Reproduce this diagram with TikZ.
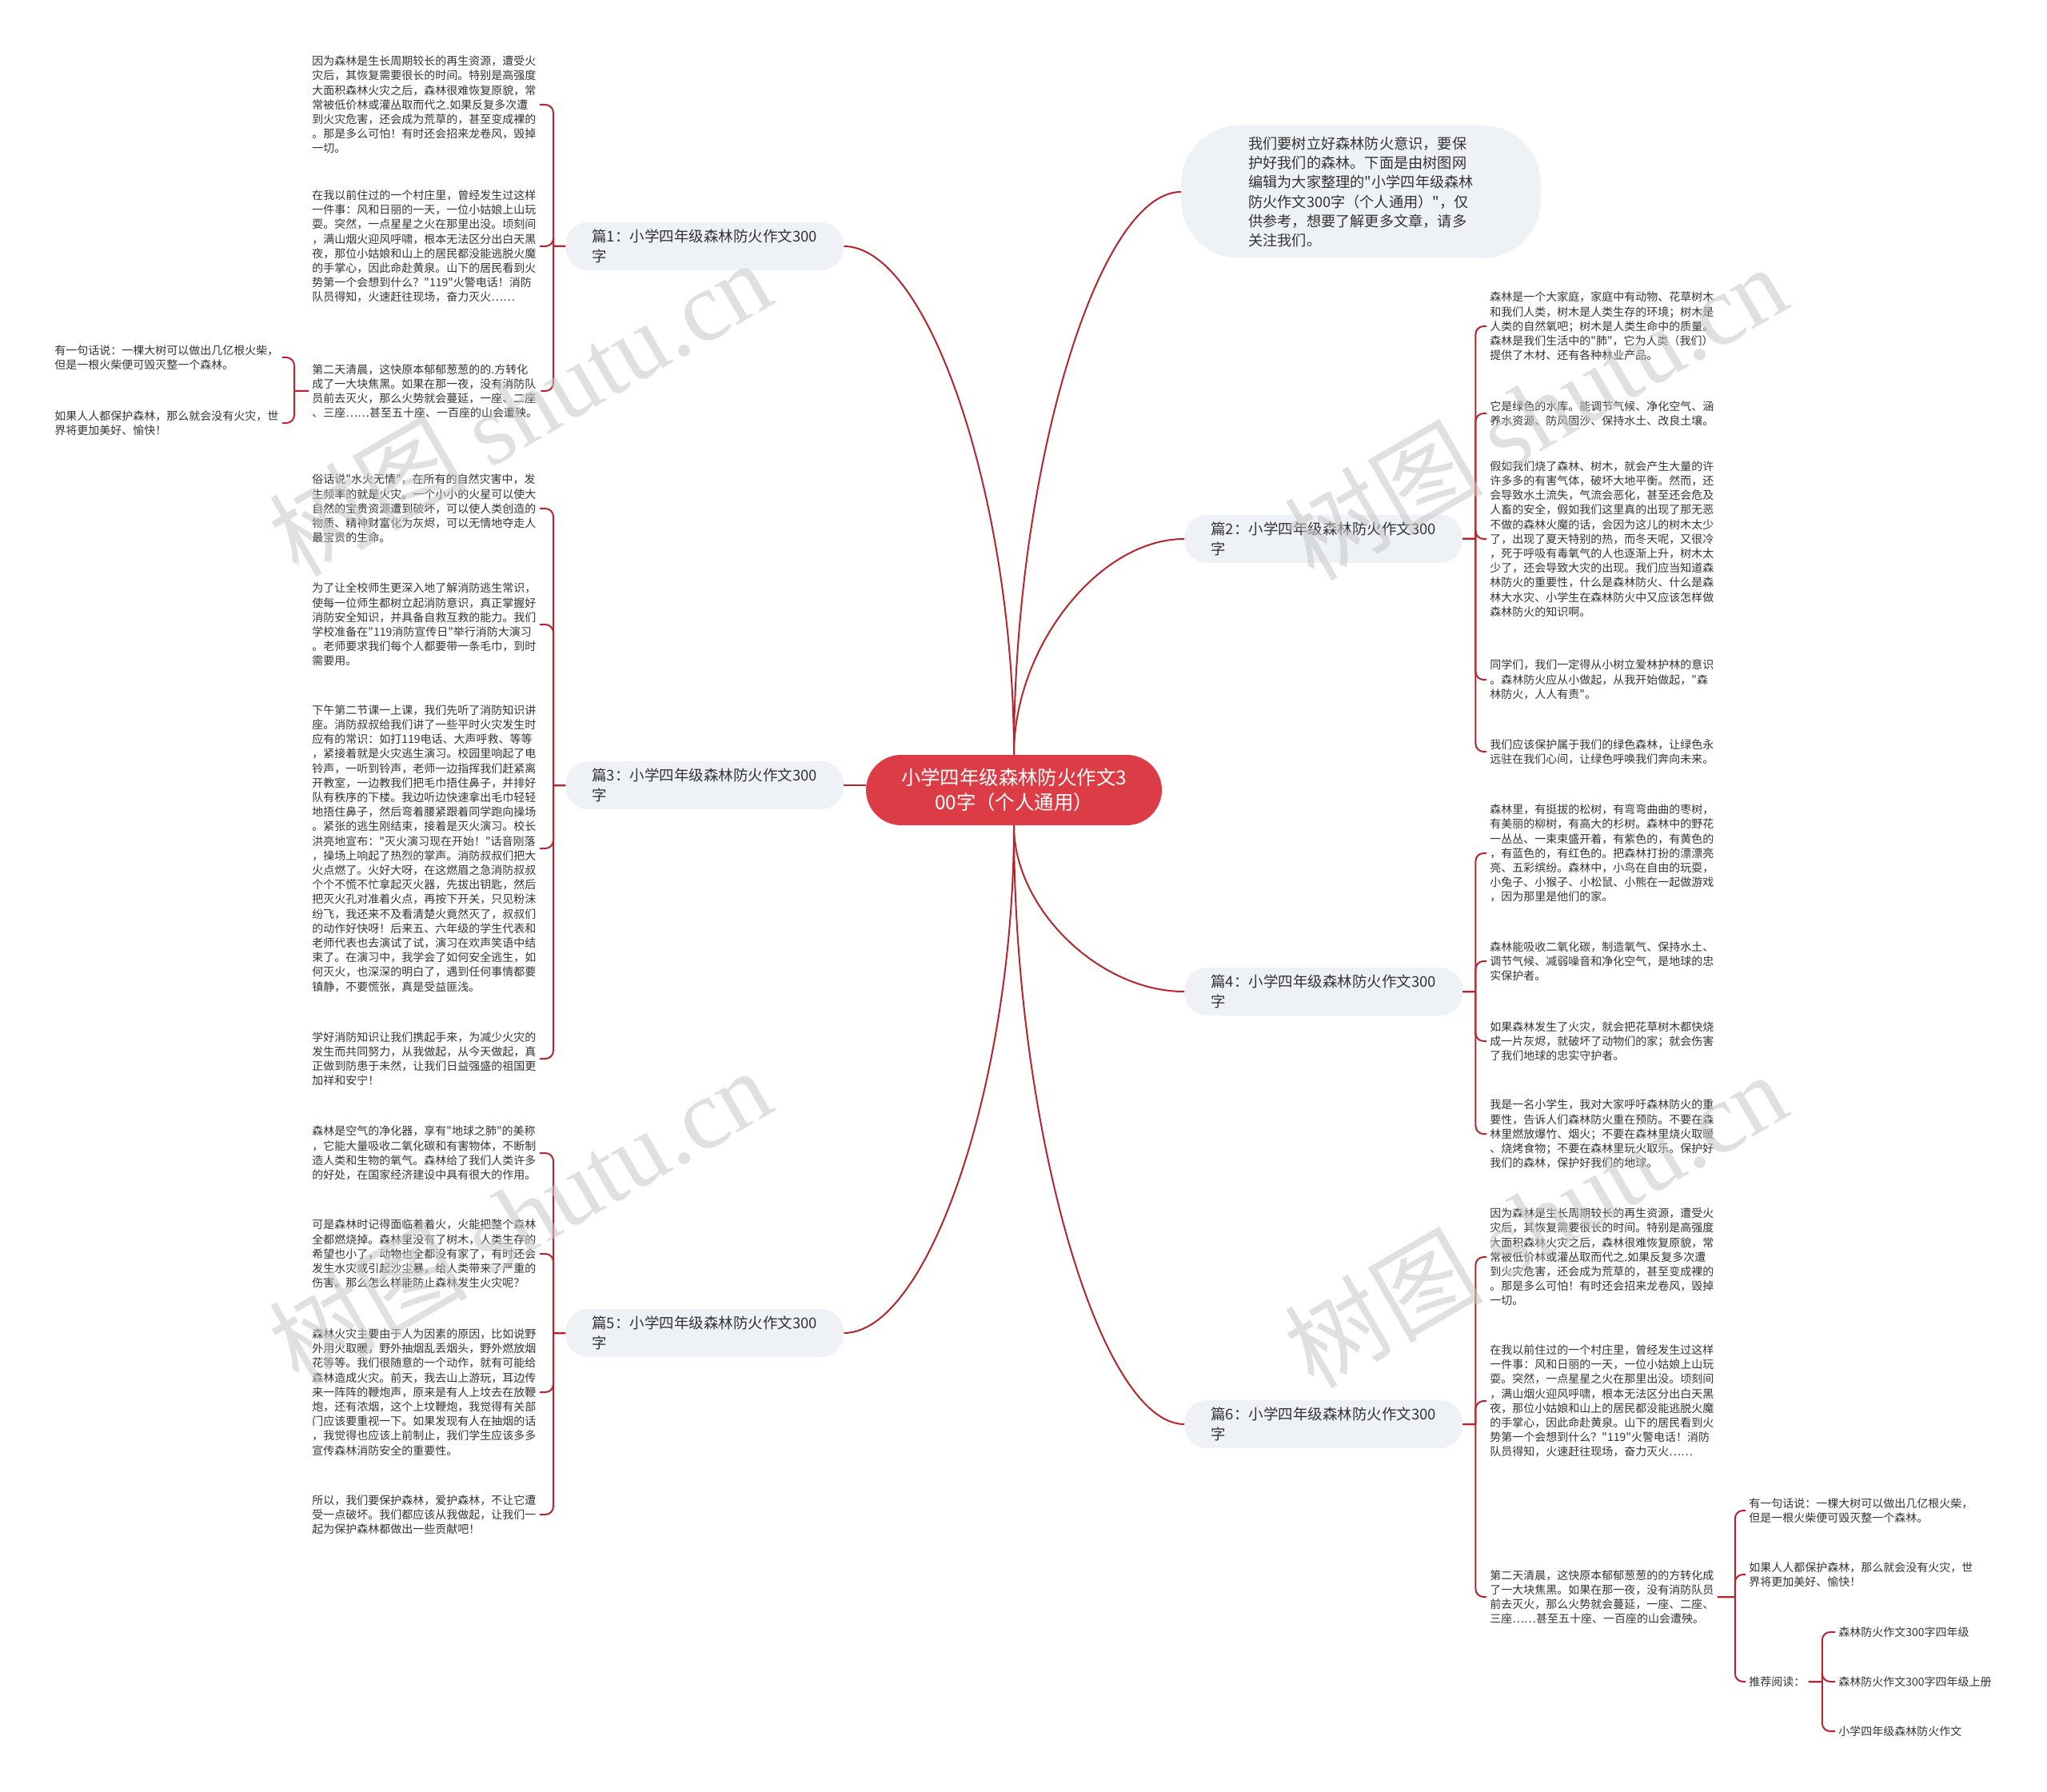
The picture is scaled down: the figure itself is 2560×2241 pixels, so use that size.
\documentclass[tikz,border=0pt]{standalone}
\usepackage{fontspec}
\setmainfont{Noto Sans CJK SC}[Ligatures=TeXOff]
\newfontfamily\wmserif{Liberation Serif}
\usetikzlibrary{calc}
\definecolor{linkred}{HTML}{B3262E}
\definecolor{rootred}{HTML}{DC3C45}
\definecolor{boxgray}{HTML}{EEF1F5}
\definecolor{txtgray}{HTML}{333333}
\tikzset{
  root/.style={fill=rootred,text=white,rounded corners=22pt,minimum width=185pt,
    minimum height=44pt,align=center,font=\fontsize{12.2}{15.5}\selectfont},
  branch/.style={fill=boxgray,text=txtgray,rounded corners=14pt,inner xsep=16.5pt,
    inner ysep=4pt,minimum height=30pt,align=left,anchor=west,
    font=\fontsize{9.25}{12.25}\selectfont},
  intro/.style={fill=boxgray,text=txtgray,rounded corners=36pt,inner xsep=42pt,
    inner ysep=7pt,align=left,font=\fontsize{9.1}{12.1}\selectfont},
  leaf/.style={text=txtgray,inner sep=2pt,align=left,anchor=west,
    font=\fontsize{7}{9.1}\selectfont},
  lnk/.style={draw=linkred,line width=1pt},
  curvy/.style={to path={.. controls ($(\tikztostart)!.5!(\tikztostart |- \tikztotarget)$)
    and ($(\tikztotarget)!.5!(\tikztotarget -| \tikztostart)$) .. (\tikztotarget)}},
  wmark/.style={text=gray!45,opacity=.55,rotate=30,font=\fontsize{62}{62}\selectfont},
}
\begin{document}
\begin{tikzpicture}[x=0.5pt,y=-0.5pt]
\useasboundingbox (0,0) rectangle (2560,2241);

\node[root] (root) at (1268,988) {小学四年级森林防火作文3\\00字（个人通用）};

\node[intro] (intro) at (1702,240) {我们要树立好森林防火意识，要保\\护好我们的森林。下面是由树图网\\编辑为大家整理的"小学四年级森林\\防火作文300字（个人通用）"，仅\\供参考，想要了解更多文章，请多\\关注我们。};

\node[branch] (b1) at (707,308) {篇1：小学四年级森林防火作文300\\字};
\node[branch] (b3) at (707,982) {篇3：小学四年级森林防火作文300\\字};
\node[branch] (b5) at (707,1667) {篇5：小学四年级森林防火作文300\\字};
\node[branch] (b2) at (1481,674) {篇2：小学四年级森林防火作文300\\字};
\node[branch] (b4) at (1481,1240) {篇4：小学四年级森林防火作文300\\字};
\node[branch] (b6) at (1481,1781) {篇6：小学四年级森林防火作文300\\字};

% left side
\node[leaf] (l1a) at (386,131) {因为森林是生长周期较长的再生资源，遭受火\\灾后，其恢复需要很长的时间。特别是高强度\\大面积森林火灾之后，森林很难恢复原貌，常\\常被低价林或灌丛取而代之.如果反复多次遭\\到火灾危害，还会成为荒草的，甚至变成裸的\\。那是多么可怕！有时还会招来龙卷风，毁掉\\一切。};
\node[leaf] (l1b) at (386,308) {在我以前住过的一个村庄里，曾经发生过这样\\一件事：风和日丽的一天，一位小姑娘上山玩\\耍。突然，一点星星之火在那里出没。顷刻间\\，满山烟火迎风呼啸，根本无法区分出白天黑\\夜，那位小姑娘和山上的居民都没能逃脱火魔\\的手掌心，因此命赴黄泉。山下的居民看到火\\势第一个会想到什么？"119"火警电话！消防\\队员得知，火速赶往现场，奋力灭火……};
\node[leaf] (l1c) at (386,489) {第二天清晨，这快原本郁郁葱葱的的.方转化\\成了一大块焦黑。如果在那一夜，没有消防队\\员前去灭火，那么火势就会蔓延，一座、二座\\、三座……甚至五十座、一百座的山会遭殃。};
\node[leaf] (f1) at (64,447) {有一句话说：一棵大树可以做出几亿根火柴，\\但是一根火柴便可毁灭整一个森林。};
\node[leaf] (f2) at (64,529) {如果人人都保护森林，那么就会没有火灾，世\\界将更加美好、愉快！};

\node[leaf] (l3a) at (386,636) {俗话说"水火无情"，在所有的自然灾害中，发\\生频率的就是火灾。一个小小的火星可以使大\\自然的宝贵资源遭到破坏，可以使人类创造的\\物质、精神财富化为灰烬，可以无情地夺走人\\最宝贵的生命。};
\node[leaf] (l3b) at (386,781) {为了让全校师生更深入地了解消防逃生常识，\\使每一位师生都树立起消防意识，真正掌握好\\消防安全知识，并具备自救互救的能力。我们\\学校准备在"119消防宣传日"举行消防大演习\\。老师要求我们每个人都要带一条毛巾，到时\\需要用。};
\node[leaf] (l3c) at (386,1061) {下午第二节课一上课，我们先听了消防知识讲\\座。消防叔叔给我们讲了一些平时火灾发生时\\应有的常识：如打119电话、大声呼救、等等\\，紧接着就是火灾逃生演习。校园里响起了电\\铃声，一听到铃声，老师一边指挥我们赶紧离\\开教室，一边教我们把毛巾捂住鼻子，并排好\\队有秩序的下楼。我边听边快速拿出毛巾轻轻\\地捂住鼻子，然后弯着腰紧跟着同学跑向操场\\。紧张的逃生刚结束，接着是灭火演习。校长\\洪亮地宣布："灭火演习现在开始！"话音刚落\\，操场上响起了热烈的掌声。消防叔叔们把大\\火点燃了。火好大呀，在这燃眉之急消防叔叔\\个个不慌不忙拿起灭火器，先拔出钥匙，然后\\把灭火孔对准着火点，再按下开关，只见粉沫\\纷飞，我还来不及看清楚火竟然灭了，叔叔们\\的动作好快呀！后来五、六年级的学生代表和\\老师代表也去演试了试，演习在欢声笑语中结\\束了。在演习中，我学会了如何安全逃生，如\\何灭火，也深深的明白了，遇到任何事情都要\\镇静，不要慌张，真是受益匪浅。};
\node[leaf] (l3d) at (386,1324) {学好消防知识让我们携起手来，为减少火灾的\\发生而共同努力，从我做起，从今天做起，真\\正做到防患于未然，让我们日益强盛的祖国更\\加祥和安宁！};

\node[leaf] (l5a) at (386,1442) {森林是空气的净化器，享有"地球之肺"的美称\\，它能大量吸收二氧化碳和有害物体，不断制\\造人类和生物的氧气。森林给了我们人类许多\\的好处，在国家经济建设中具有很大的作用。};
\node[leaf] (l5b) at (386,1568) {可是森林时记得面临着着火，火能把整个森林\\全都燃烧掉。森林里没有了树木，人类生存的\\希望也小了，动物也全都没有家了，有时还会\\发生水灾或引起沙尘暴，给人类带来了严重的\\伤害。那么怎么样能防止森林发生火灾呢？};
\node[leaf] (l5c) at (386,1741) {森林火灾主要由于人为因素的原因，比如说野\\外用火取暖，野外抽烟乱丢烟头，野外燃放烟\\花等等。我们很随意的一个动作，就有可能给\\森林造成火灾。前天，我去山上游玩，耳边传\\来一阵阵的鞭炮声，原来是有人上坟去在放鞭\\炮，还有浓烟，这个上坟鞭炮，我觉得有关部\\门应该要重视一下。如果发现有人在抽烟的话\\，我觉得也应该上前制止，我们学生应该多多\\宣传森林消防安全的重要性。};
\node[leaf] (l5d) at (386,1894) {所以，我们要保护森林，爱护森林，不让它遭\\受一点破坏。我们都应该从我做起，让我们一\\起为保护森林都做出一些贡献吧！};

% right side
\node[leaf] (r2a) at (1859,408) {森林是一个大家庭，家庭中有动物、花草树木\\和我们人类，树木是人类生存的环境；树木是\\人类的自然氧吧；树木是人类生命中的质量。\\森林是我们生活中的"肺"，它为人类（我们）\\提供了木材、还有各种林业产品。};
\node[leaf] (r2b) at (1859,517) {它是绿色的水库。能调节气候、净化空气、涵\\养水资源、防风固沙、保持水土、改良土壤。};
\node[leaf] (r2c) at (1859,674) {假如我们烧了森林、树木，就会产生大量的许\\许多多的有害气体，破坏大地平衡。然而，还\\会导致水土流失，气流会恶化，甚至还会危及\\人畜的安全，假如我们这里真的出现了那无恶\\不做的森林火魔的话，会因为这儿的树木太少\\了，出现了夏天特别的热，而冬天呢，又很冷\\，死于呼吸有毒氧气的人也逐渐上升，树木太\\少了，还会导致大灾的出现。我们应当知道森\\林防火的重要性，什么是森林防火、什么是森\\林大水灾、小学生在森林防火中又应该怎样做\\森林防火的知识啊。};
\node[leaf] (r2d) at (1859,850) {同学们，我们一定得从小树立爱林护林的意识\\。森林防火应从小做起，从我开始做起，"森\\林防火，人人有责"。};
\node[leaf] (r2e) at (1859,940) {我们应该保护属于我们的绿色森林，让绿色永\\远驻在我们心间，让绿色呼唤我们奔向未来。};

\node[leaf] (r4a) at (1859,1067) {森林里，有挺拔的松树，有弯弯曲曲的枣树，\\有美丽的柳树，有高大的杉树。森林中的野花\\一丛丛、一束束盛开着，有紫色的，有黄色的\\，有蓝色的，有红色的。把森林打扮的漂漂亮\\亮、五彩缤纷。森林中，小鸟在自由的玩耍，\\小兔子、小猴子、小松鼠、小熊在一起做游戏\\，因为那里是他们的家。};
\node[leaf] (r4b) at (1859,1202) {森林能吸收二氧化碳，制造氧气、保持水土、\\调节气候、减弱噪音和净化空气，是地球的忠\\实保护者。};
\node[leaf] (r4c) at (1859,1302) {如果森林发生了火灾，就会把花草树木都快烧\\成一片灰烬，就破坏了动物们的家；就会伤害\\了我们地球的忠实守护者。};
\node[leaf] (r4d) at (1859,1418) {我是一名小学生，我对大家呼吁森林防火的重\\要性，告诉人们森林防火重在预防。不要在森\\林里燃放爆竹、烟火；不要在森林里烧火取暖\\、烧烤食物；不要在森林里玩火取乐。保护好\\我们的森林，保护好我们的地球。};

\node[leaf] (r6a) at (1859,1572) {因为森林是生长周期较长的再生资源，遭受火\\灾后，其恢复需要很长的时间。特别是高强度\\大面积森林火灾之后，森林很难恢复原貌，常\\常被低价林或灌丛取而代之.如果反复多次遭\\到火灾危害，还会成为荒草的，甚至变成裸的\\。那是多么可怕！有时还会招来龙卷风，毁掉\\一切。};
\node[leaf] (r6b) at (1859,1752) {在我以前住过的一个村庄里，曾经发生过这样\\一件事：风和日丽的一天，一位小姑娘上山玩\\耍。突然，一点星星之火在那里出没。顷刻间\\，满山烟火迎风呼啸，根本无法区分出白天黑\\夜，那位小姑娘和山上的居民都没能逃脱火魔\\的手掌心，因此命赴黄泉。山下的居民看到火\\势第一个会想到什么？"119"火警电话！消防\\队员得知，火速赶往现场，奋力灭火……};
\node[leaf] (r6c) at (1859,1997) {第二天清晨，这快原本郁郁葱葱的的方转化成\\了一大块焦黑。如果在那一夜，没有消防队员\\前去灭火，那么火势就会蔓延，一座、二座、\\三座……甚至五十座、一百座的山会遭殃。};
\node[leaf] (g1) at (2183,1889) {有一句话说：一棵大树可以做出几亿根火柴，\\但是一根火柴便可毁灭整一个森林。};
\node[leaf] (g2) at (2183,1969) {如果人人都保护森林，那么就会没有火灾，世\\界将更加美好、愉快！};
\node[leaf] (g3) at (2183,2103) {推荐阅读：};
\node[leaf] (h1) at (2295,2041) {森林防火作文300字四年级};
\node[leaf] (h2) at (2295,2103) {森林防火作文300字四年级上册};
\node[leaf] (h3) at (2295,2165) {小学四年级森林防火作文};

% connectors from the centre
\draw[lnk] (root.north) to[curvy] (b1.east);
\draw[lnk] (root.north) to[curvy] (intro.west);
\draw[lnk] (root.north) to[curvy] (b2.west);
\draw[lnk] (b3.east) -- (b3.east -| root.west);
\draw[lnk] (root.south) to[curvy] (b4.west);
\draw[lnk] (root.south) to[curvy] (b5.east);
\draw[lnk] (root.south) to[curvy] (b6.west);

% braces
\foreach \l in {l1a,l1b,l1c}
  \draw[lnk] (b1.west) -- ++(-15,0) coordinate (j) (j) [rounded corners=5pt] |- (\l.east);
\foreach \l in {f1,f2}
  \draw[lnk] (l1c.west) -- ++(-18,0) coordinate (j) (j) [rounded corners=5pt] |- (\l.east);
\foreach \l in {l3a,l3b,l3c,l3d}
  \draw[lnk] (b3.west) -- ++(-15,0) coordinate (j) (j) [rounded corners=5pt] |- (\l.east);
\foreach \l in {l5a,l5b,l5c,l5d}
  \draw[lnk] (b5.west) -- ++(-15,0) coordinate (j) (j) [rounded corners=5pt] |- (\l.east);
\foreach \l in {r2a,r2b,r2c,r2d,r2e}
  \draw[lnk] (b2.east) -- ++(16,0) coordinate (j) (j) [rounded corners=5pt] |- (\l.west);
\foreach \l in {r4a,r4b,r4c,r4d}
  \draw[lnk] (b4.east) -- ++(16,0) coordinate (j) (j) [rounded corners=5pt] |- (\l.west);
\foreach \l in {r6a,r6b,r6c}
  \draw[lnk] (b6.east) -- ++(16,0) coordinate (j) (j) [rounded corners=5pt] |- (\l.west);
\foreach \l in {g1,g2,g3}
  \draw[lnk] (r6c.east) -- ++(22,0) coordinate (j) (j) [rounded corners=5pt] |- (\l.west);
\foreach \l in {h1,h2,h3}
  \draw[lnk] (g3.east) -- ++(17,0) coordinate (j) (j) [rounded corners=5pt] |- (\l.west);

% watermark
\foreach \wx/\wy in {650/510,650/1520,1920/515,1920/1525}
  \node[wmark] at (\wx,\wy) {树图 {\wmserif shutu.cn}};
\end{tikzpicture}
\end{document}
